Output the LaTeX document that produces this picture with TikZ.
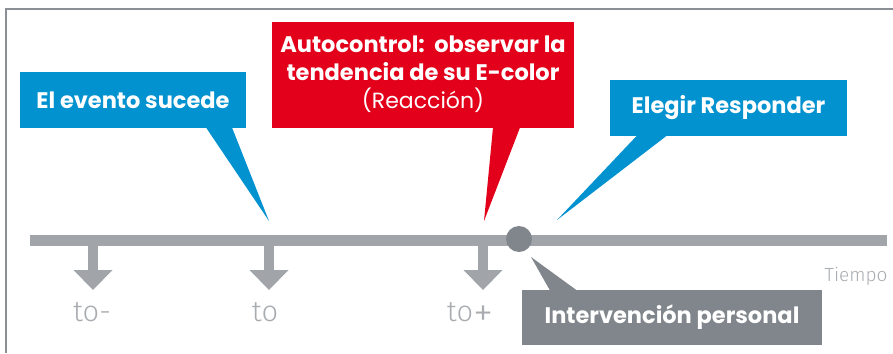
\documentclass[tikz,border=0pt]{standalone}
\usepackage{fontspec}
\usetikzlibrary{calc}
\setmainfont{Poppins}
\newfontfamily\lightfont{Fira Sans Light}
\definecolor{cblue}{HTML}{0392D0}
\definecolor{cred}{HTML}{E2001A}
\definecolor{cbar}{HTML}{A1A5A9}
\definecolor{cdark}{HTML}{80868B}
\definecolor{clabel}{HTML}{A8ACB0}
\definecolor{cframe}{HTML}{8A9096}
\begin{document}
\begin{tikzpicture}[x=1pt,y=-1pt,
  callout/.style={inner sep=0pt,outer sep=0pt,text=white,font=\bfseries\fontsize{22.5}{28}\selectfont,align=center},
  tlabel/.style={text=clabel,font=\lightfont\fontsize{29}{31}\selectfont,inner sep=0pt,anchor=base}]
\useasboundingbox (0,0) rectangle (893,353);
% frame
\draw[cframe,line width=1.2pt] (6,353) -- (6,9) -- (893,9);
% timeline bar
\fill[cbar] (30,235) rectangle (887,246);
\coordinate (tA) at (93,246);
\coordinate (tB) at (269,246);
\coordinate (tC) at (483,246);
\foreach \c in {tA,tB,tC}{
  \fill[cbar] ($(\c)+(-5,0)$) rectangle ($(\c)+(5,25)$);
  \fill[cbar] ($(\c)+(-19.5,24)$) -- ($(\c)+(19.5,24)$) -- ($(\c)+(0,44)$) -- cycle;
}
\node[tlabel] (l1) at (92,321) {to-};
\node[tlabel] (l2) at (265,321) {to};
\node[tlabel] (l3) at (470,321) {to\raisebox{-5pt}{\scalebox{1.4}{+}}};
\node[text=clabel,font=\lightfont\fontsize{19}{21}\selectfont,inner sep=0pt] (tiempo) at (856,276) {Tiempo};
% circle
\node[circle,fill=cdark,minimum size=26pt,inner sep=0pt] (dot) at (519,239) {};
% left blue callout
\node[callout,fill=cblue,minimum width=226pt,minimum height=56pt,anchor=north west] (b1) at (20,72) {El evento sucede};
\coordinate (p1) at (269,221);
\fill[cblue] (206,127.5) -- (p1) -- (232,127.5) -- cycle;
% red callout
\node[callout,fill=cred,minimum width=302pt,minimum height=106pt,anchor=north west] (b2) at (272,22) {};
\node[callout,anchor=center] (b2t) at ([yshift=1pt]b2.center) {Autocontrol:\ \ observar la\\tendencia de su E-color\\{\mdseries\fontsize{22}{28}\selectfont(Reacción)}};
\coordinate (p2) at (484,221);
\fill[cred] (493,127.5) -- (p2) -- (520,127.5) -- cycle;
% right blue callout
\node[callout,fill=cblue,minimum width=237pt,minimum height=56pt,anchor=north west] (b3) at (610,80) {Elegir Responder};
\coordinate (p3) at (557,220);
\fill[cblue] (637,135.5) -- (p3) -- (667,135.5) -- cycle;
% dark gray callout
\node[callout,fill=cdark,minimum width=300pt,minimum height=55pt,anchor=north west] (b4) at (522,290) {Intervención personal};
\coordinate (p4) at (531,257);
\fill[cdark] (550,290.5) -- (p4) -- (577,290.5) -- cycle;
\end{tikzpicture}
\end{document}
